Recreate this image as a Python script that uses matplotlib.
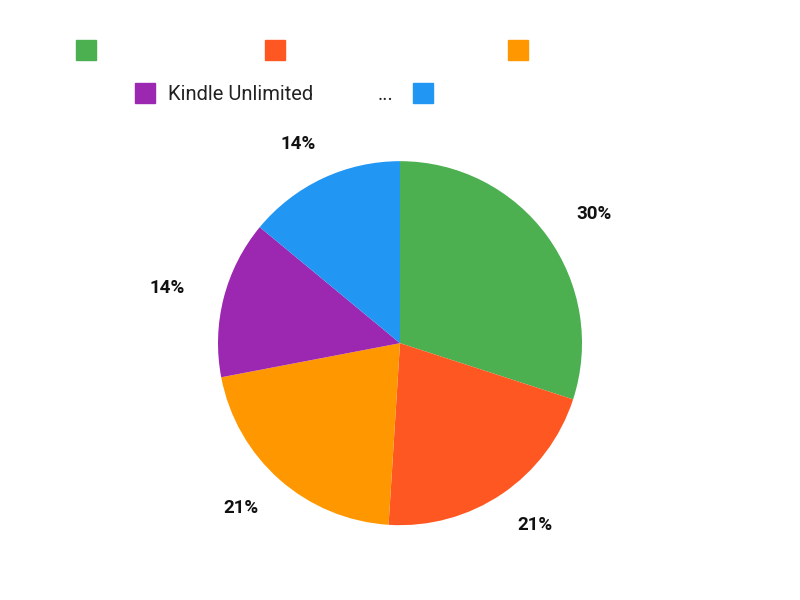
import matplotlib
matplotlib.use('Agg')
import matplotlib.pyplot as plt
import matplotlib.patches as patches
import numpy as np

plt.rcParams['font.family'] = ['Roboto', 'DejaVu Sans']

# 데이터
labels = ['', '', '', 'Kindle Unlimited', '']
values = [30, 21, 21, 14, 14]
colors = ['#4CAF50', '#FF5722', '#FF9800', '#9C27B0', '#2196F3']

fig = plt.figure(figsize=(8, 6), dpi=100)

# 파이 차트
ax = fig.add_axes([0.5 - 0.2275, 0.428 - 0.3033, 0.455, 0.6067])
wedges, texts, autotexts = ax.pie(
    values, colors=colors, startangle=90, counterclock=False,
    autopct='%1.0f%%', pctdistance=1.25, radius=1.0,
    wedgeprops=dict(linewidth=0),
    textprops=dict(fontsize=13.5, fontweight='bold', color='#111111'))
ax.set_xlim(-1, 1)
ax.set_ylim(-1, 1)
ax.set_aspect('equal')

# 라벨 위치 보정 (글자 상자 크기 고려)
gap, hw, hh = 0.209, 0.11, 0.0
for w, t in zip(wedges, autotexts):
    th = np.deg2rad((w.theta1 + w.theta2) / 2)
    c, s = np.cos(th), np.sin(th)
    t.set_position((c * (1 + gap) + hw * c, s * (1 + gap) + hh * s))

# 범례 (직접 그리기)
legend_pos = [(76, 40), (265, 40), (508, 40), (135, 83), (413, 83)]
for (px, py), c in zip(legend_pos, colors):
    fig.patches.append(patches.Rectangle((px / 800, 1 - (py + 20) / 600), 20 / 800, 20 / 600,
                                         transform=fig.transFigure, color=c))
fig.text(168 / 800, 1 - 94 / 600, 'Kindle Unlimited', fontsize=14.5, va='center', color='#222222')
fig.text(378 / 800, 1 - 94 / 600, '...', fontsize=14.5, va='center', color='#222222')

fig.savefig('out.png', dpi=100)
